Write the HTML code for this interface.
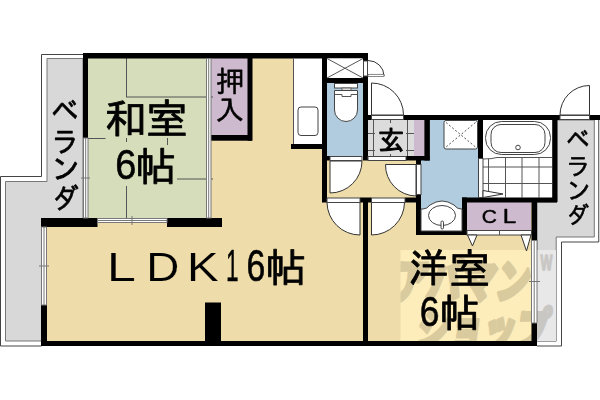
<!DOCTYPE html>
<html lang="ja">
<head>
<meta charset="utf-8">
<title>間取り図</title>
<style>
html,body{margin:0;padding:0;background:#fff;}
body{width:600px;height:400px;overflow:hidden;}
svg{display:block;}
text{font-family:"Liberation Sans","IPAGothic",sans-serif;fill:#000;}
text.wm{font-family:"Liberation Sans","Noto Sans CJK JP",sans-serif;font-weight:900;fill:#1c1000;}
.w{fill:#000;}
.t{stroke:#555;stroke-width:1;fill:none;}
.d{stroke:#333;stroke-width:1;fill:#fff;}
.o{stroke:#444;stroke-width:1;fill:#fff;}
</style>
</head>
<body>
<svg width="600" height="400" viewBox="0 0 600 400">
<rect width="600" height="400" fill="#fff"/>

<!-- left veranda -->
<g id="veranda-left">
<path d="M83 54.500 H41.500 V176.500 H0.500 V346 H41.500" fill="none" stroke="#444" stroke-width="1"/>
<path d="M47 58.5 H83 V341 H5.5 V181.5 H47 Z" fill="#d8d8d8" stroke="#777" stroke-width="1"/>
</g>

<!-- right veranda -->
<g id="veranda-right">
<path d="M598.750 118 V242 H561.500 V346 H537" fill="none" stroke="#444" stroke-width="1"/>
<path d="M557 120 H594.300 V237 H556.200 V341.200 H537 V202 H557 Z" fill="#d8d8d8" stroke="#777" stroke-width="1"/>
</g>

<!-- room fills -->
<g id="fills">
<rect x="88" y="58" width="118" height="160" fill="#d6ddba"/>
<rect x="211" y="58" width="37" height="77" fill="#cebace"/>
<path d="M252 58 H293 V149 H322 V202 H363 V341 H47 V222 H211 V140 H252 Z" fill="#eeddaa"/>
<rect x="293" y="58" width="29" height="86" fill="#fff"/>
<rect x="327" y="83" width="36" height="73" fill="#b0ccde"/>
<rect x="327" y="160" width="90" height="38" fill="#eeddaa"/>
<rect x="368" y="120" width="46" height="36" fill="#dcdcdc"/>
<rect x="414" y="120" width="11" height="36" fill="#cebace"/>
<rect x="368" y="202" width="164" height="139" fill="#eeddaa"/>
<path d="M430 120 H478 V198 H462 V231 H421 V160 H430 Z" fill="#b0ccde"/>
<rect x="483" y="120" width="70" height="78" fill="#fff"/>
<rect x="467" y="202" width="64" height="28" fill="#cebace"/>
</g>

<!-- tatami lines -->
<g class="t" id="tatami">
<path d="M126.500 58 V97"/>
<path d="M126 97 H213"/>
<path d="M88 138.500 H105.500"/>
<path d="M126.500 138 V142"/>
<path d="M167.500 138 V145"/>
<path d="M126.500 186 V218"/>
<path d="M177 179 H213"/>
</g>

<!-- watermark -->
<g id="watermark">
<clipPath id="wmclip"><rect x="400.500" y="250" width="155.500" height="96"/></clipPath>
<rect x="400.500" y="250" width="131" height="91" fill="#fcedbb"/>
<rect x="537" y="250" width="19" height="91" fill="#e8e8e8"/>
<g clip-path="url(#wmclip)"><g opacity="0.150" stroke="#1c1000" stroke-width="3.500" stroke-linejoin="round">
<text transform="matrix(0.745 0 -0.150 1 392 298)" font-size="46" class="wm">アパマン</text>
<text transform="matrix(0.720 0 -0.150 1 415 345.500)" font-size="46" class="wm">ショップ</text>
<text transform="matrix(0.900 0 0 1.600 540.500 269.500)" font-size="14" class="wm" stroke-width="1">W</text>
</g></g>
</g>

<!-- walls -->
<g class="w" id="walls">
<rect x="83" y="53" width="285" height="5.500"/>
<rect x="83" y="53" width="5" height="85"/>
<rect x="247.500" y="58" width="5" height="82.700"/>
<rect x="207" y="135" width="45" height="5.700"/>
<rect x="322" y="58" width="5" height="144.500"/>
<rect x="291" y="144" width="36" height="5"/>
<rect x="322" y="78" width="46" height="5"/>
<rect x="363" y="53" width="5" height="8"/>
<rect x="363" y="76" width="5" height="84.500"/>
<rect x="327" y="156" width="3" height="4.500"/>
<rect x="363" y="115" width="8.500" height="5"/>
<rect x="403" y="115" width="157" height="5"/>
<rect x="589.500" y="115" width="10.500" height="5"/>
<rect x="424.400" y="120" width="5.500" height="40.500"/>
<rect x="406" y="156" width="23.500" height="4.500"/>
<rect x="416" y="160" width="5" height="4.500"/>
<rect x="416" y="194.500" width="5" height="40.500"/>
<rect x="405" y="197.500" width="16" height="5"/>
<rect x="360" y="197.500" width="11.500" height="5"/>
<rect x="363" y="202" width="5" height="144"/>
<rect x="416" y="230.500" width="51" height="4.500"/>
<rect x="462" y="197.500" width="95" height="5"/>
<rect x="462" y="197.500" width="5" height="37.500"/>
<rect x="478" y="120" width="5" height="38.500"/>
<rect x="552.200" y="120" width="5.200" height="82"/>
<rect x="531.500" y="202" width="5.500" height="38.500"/>
<rect x="531.500" y="323" width="5.500" height="23"/>
<rect x="41" y="341" width="496" height="5"/>
<rect x="41" y="305" width="6" height="41"/>
<rect x="41" y="218" width="56.500" height="9"/>
<rect x="167" y="218" width="55" height="9"/>
<rect x="205" y="302.500" width="16" height="39"/>
</g>

<!-- windows -->
<g id="windows" fill="#fff" stroke="#777" stroke-width="1">
<rect x="83.500" y="138" width="4.500" height="80"/>
<path d="M85.700 138 V218 M81 178 H90" fill="none"/>
<rect x="41.500" y="227" width="5" height="78"/>
<path d="M44 227 V305 M39 266 H49" fill="none"/>
<rect x="97.500" y="218.500" width="69.500" height="4"/>
<path d="M97.500 220.500 H167 M132 216 V225" fill="none"/>
<rect x="206.500" y="58.500" width="4.500" height="159.500"/>
<path d="M208.700 58.500 V218" fill="none"/>
<rect x="531.500" y="240.500" width="5.500" height="82.500"/>
<path d="M534.200 240.500 V323 M529 281.500 H540" fill="none"/>
</g>

<!-- kitchen -->
<g id="kitchen">
<path d="M293.500 58.500 V144" class="t"/>
<rect x="298" y="107" width="20" height="28.500" rx="3" class="o"/>
</g>

<!-- PS -->
<g id="ps">
<rect x="327" y="58.500" width="36" height="19.500" fill="#fff"/>
<path d="M327 58.500 L363 78 M363 58.500 L327 78" class="t" stroke="#333"/>
<rect x="363.500" y="61" width="4" height="15" class="o"/>
<path d="M368 60.500 A16 15.500 0 0 1 384 76" class="d" fill="none"/>
<rect x="368" y="74.300" width="16" height="2.200" fill="#fff" stroke="#555" stroke-width="0.700"/>
</g>

<!-- toilet -->
<g id="toilet">
<rect x="334.500" y="83.500" width="23" height="4.500" class="o"/>
<rect x="342" y="88" width="9" height="2.500" fill="#ddd" stroke="#555" stroke-width="0.800"/>
<path d="M334.500 90.500 H357.500 V110 A11.500 11.500 0 0 1 334.500 110 Z" class="o"/>
<path d="M334.500 94.500 H342 V96.500 H351 V94.500 H357.500" class="t"/>
</g>

<!-- doors -->
<g id="doors">
<path d="M371.500 83 A32 32 0 0 1 403.500 115 H371.500 Z" class="d"/>
<rect x="371.500" y="115.500" width="32" height="4" class="o"/>
<path d="M330 161 H362 A32 32 0 0 1 330 193 Z" class="d"/>
<rect x="330" y="156.500" width="32" height="4" class="o"/>
<rect x="368" y="156.500" width="38" height="4" class="o"/>
<path d="M360 202.500 V235 A33 33 0 0 1 327 202.500 Z" class="d"/>
<rect x="327" y="198" width="33" height="4.500" class="o"/>
<path d="M371.500 202.500 H404.500 A33 33 0 0 1 371.500 235 Z" class="d"/>
<rect x="371.500" y="198" width="33.500" height="4.500" class="o"/>
<path d="M416 164.500 V196 A31 31 0 0 1 385.500 164.500 Z" class="d"/>
<rect x="416.500" y="164.500" width="4.500" height="30" class="o"/>
<path d="M589.500 85.500 V115 H560 A29.500 29.500 0 0 1 589.500 85.500 Z" class="d"/>
<rect x="560" y="115.500" width="29.500" height="4" class="o"/>
</g>

<!-- genkan -->
<g id="genkan" class="t" stroke="#666">
<path d="M373.500 120 V156 M390.500 120 V156 M407.500 120 V156 M368 133.500 H414 M368 150.500 H414"/>
</g>
<rect x="375" y="123" width="31" height="31" fill="#dcdcdc"/>

<!-- washroom -->
<g id="wash">
<rect x="444" y="120.500" width="33.500" height="28.500" rx="2" class="o" stroke="#666"/>
<path d="M446 122.500 L475.500 147 M475.500 122.500 L446 147" class="t" stroke-dasharray="2 2"/>
<path d="M421 231 V209 H423 Q427 209 430 205 Q442 197 454 205 Q457 209 461 209 H462 V231 Z" class="o"/>
<ellipse cx="442" cy="215.500" rx="13.500" ry="10" class="o"/>
<rect x="441" y="221" width="2.500" height="8" rx="1.200" class="o"/>
</g>

<!-- bath -->
<g id="bath">
<path d="M483 159 Q492 159 497 157.500 H552" class="t"/>
<path d="M488.500 159 V193 M505.500 157.500 V198 M522 157.500 V198 M539 157.500 V198 M483 167 H552 M483 183.500 H552" class="t"/>
<rect x="485.500" y="121.500" width="65" height="33" rx="16" class="o"/>
<rect x="491" y="124.500" width="54" height="28" rx="10" class="o"/>
<circle cx="518" cy="147.500" r="2.300" class="o"/>
<rect x="478.500" y="158.500" width="4.500" height="39" class="o"/>
<path d="M483 190.500 L503 194 L483 197.500 Z" class="d"/>
</g>

<!-- closet doors -->
<g id="closet">
<rect x="467" y="230.500" width="64.500" height="4.500" class="o"/>
<path d="M499.500 230.500 V235" class="t"/>
<path d="M467.500 235 H477 L472.500 246 Z" class="d"/>
<path d="M521 235 H531 L526.500 251 Z" class="d"/>
</g>

<!-- labels -->
<g id="labels" opacity="0.999">
<g id="t-wa" stroke-linejoin="round"><text transform="matrix(1.039 0 0 1 104.61 132.98)" font-size="40.93" stroke="#000" stroke-width="0.8">和</text><text transform="matrix(1.015 0 0 1 145.66 133.65)" font-size="41.56" stroke="#000" stroke-width="0.8">室</text></g>
<g id="t-wa6" stroke-linejoin="round"><text transform="matrix(0.894 0 0 1 115.17 178.78)" font-size="42.46" stroke="#000" stroke-width="0.6">6</text><text transform="matrix(1.024 0 0 1 135.14 180.8)" font-size="39.94" stroke="#000" stroke-width="0.8">帖</text></g>
<g id="t-oshi" stroke-linejoin="round"><text transform="matrix(0.974 0 0 1 215.92 91.77)" font-size="29.06" stroke="#000" stroke-width="0.6">押</text><text transform="matrix(1.050 0 0 1 215.2 120.43)" font-size="27.45" stroke="#000" stroke-width="0.6">入</text></g>
<g id="t-verL" stroke-linejoin="round"><text transform="matrix(0.859 0 0 1 50.96 122.92)" font-size="32.35" stroke="#000" stroke-width="0.7">ベ</text><text transform="matrix(0.943 0 0 1 51.42 151.7)" font-size="28.82" stroke="#000" stroke-width="0.7">ラ</text><text transform="matrix(0.979 0 0 1 50.68 180.21)" font-size="30.43" stroke="#000" stroke-width="0.7">ン</text><text transform="matrix(0.944 0 0 1 51.72 208.76)" font-size="28.6" stroke="#000" stroke-width="0.7">ダ</text></g>
<g id="t-ldk" stroke-linejoin="round"><text transform="matrix(1.279 0 0 1 106.69 281.1)" font-size="40.87" stroke="#eeddaa" stroke-width="0.2">L</text><text transform="matrix(1.120 0 0 1 146.23 281.1)" font-size="40.87" stroke="#eeddaa" stroke-width="0.2">D</text><text transform="matrix(1.159 0 0 1 187.1 281.1)" font-size="40.87" stroke="#eeddaa" stroke-width="0.2">K</text><text transform="matrix(0.506 0 0 1 225.93 280.75)" font-size="44.78" stroke="#000" stroke-width="0.5">1</text><text transform="matrix(0.755 0 0 1 246.54 281.25)" font-size="44.79" stroke="#000" stroke-width="0.6">6</text><text transform="matrix(1.028 0 0 1 265.34 281.82)" font-size="39.78" stroke="#000" stroke-width="0.8">帖</text></g>
<g id="t-gen" stroke-linejoin="round"><text transform="matrix(0.991 0 0 1 377.64 149.57)" font-size="26.97" stroke="#000" stroke-width="0.9">玄</text></g>
<g id="t-cl" stroke-linejoin="round"><text transform="matrix(1.099 0 0 1 481.67 222.61)" font-size="19.15" stroke="#000" stroke-width="0.4">C</text><text transform="matrix(1.250 0 0 1 502.81 222.8)" font-size="19.42" stroke="#000" stroke-width="0.4">L</text></g>
<g id="t-verR" stroke-linejoin="round"><text transform="matrix(0.853 0 0 1 566.09 149.72)" font-size="27.91" stroke="#000" stroke-width="0.6">ベ</text><text transform="matrix(0.990 0 0 1 565.82 174.6)" font-size="24.38" stroke="#000" stroke-width="0.6">ラ</text><text transform="matrix(0.979 0 0 1 566.1 199.59)" font-size="25.8" stroke="#000" stroke-width="0.6">ン</text><text transform="matrix(0.958 0 0 1 566.22 223.53)" font-size="23.8" stroke="#000" stroke-width="0.6">ダ</text></g>
<g id="t-yo" stroke-linejoin="round"><text transform="matrix(1.008 0 0 1 408.72 282.35)" font-size="39.33" stroke="#000" stroke-width="0.8">洋</text><text transform="matrix(0.994 0 0 1 448.96 283.65)" font-size="41.56" stroke="#000" stroke-width="0.8">室</text></g>
<g id="t-yo6" stroke-linejoin="round"><text transform="matrix(0.832 0 0 1 419.73 326.28)" font-size="42.46" stroke="#000" stroke-width="0.6">6</text><text transform="matrix(1.031 0 0 1 439.39 327.36)" font-size="39.11" stroke="#000" stroke-width="0.8">帖</text></g>
</g>
</svg>
</body>
</html>
